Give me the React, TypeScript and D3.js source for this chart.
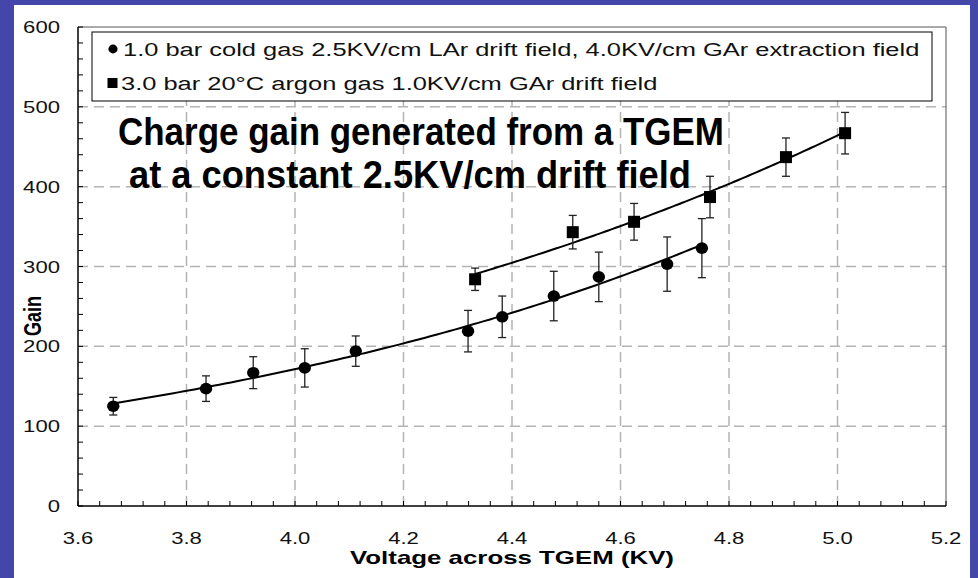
import React from 'react';
import * as d3 from 'd3';

// ---- data ----
const coldVoltage = [3.665, 3.836, 3.923, 4.018, 4.112, 4.319, 4.382, 4.477, 4.56, 4.686, 4.75];
const coldGain = [125, 147, 167, 173, 194, 219, 237, 263, 287, 303, 323];
const coldErr = [11, 16, 20, 24, 19, 26, 26, 31, 31, 34, 37];

const warmVoltage = [4.332, 4.512, 4.625, 4.765, 4.905, 5.014];
const warmGain = [284, 343, 356, 387, 437, 467];
const warmErr = [14, 21, 23, 26, 24, 26];

const xTickValues = [3.6, 3.8, 4.0, 4.2, 4.4, 4.6, 4.8, 5.0, 5.2];
const yTickValues = [0, 100, 200, 300, 400, 500, 600];

const legendLabels = [
  '1.0 bar cold gas 2.5KV/cm LAr drift field, 4.0KV/cm GAr extraction field',
  '3.0 bar 20\u00B0C argon gas 1.0KV/cm GAr drift field',
];
const noteLines = ['Charge gain generated from a TGEM', 'at a constant 2.5KV/cm drift field'];
const xTitle = 'Voltage across TGEM (KV)';
const yTitle = 'Gain';

// exponential least-squares trend line through the points
function expFit(xs: number[], ys: number[]) {
  const n = xs.length;
  const ly = ys.map((v) => Math.log(v));
  const mx = d3.mean(xs)!;
  const my = d3.mean(ly)!;
  let sxy = 0, sxx = 0;
  for (let i = 0; i < n; i++) {
    sxy += (xs[i] - mx) * (ly[i] - my);
    sxx += (xs[i] - mx) * (xs[i] - mx);
  }
  const b = sxy / sxx;
  const a = Math.exp(my - b * mx);
  return (v: number) => a * Math.exp(b * v);
}

const FONT = '"Liberation Sans", Arial, Helvetica, sans-serif';

export default function App() {
  const W = 978, H = 578;
  const x = d3.scaleLinear().domain([3.6, 5.2]).range([78, 946]);
  const y = d3.scaleLinear().domain([0, 600]).range([506, 27]);

  const line = d3.line<[number, number]>().x((d) => x(d[0])).y((d) => y(d[1]));
  const curve = (xs: number[], ys: number[]) => {
    const f = expFit(xs, ys);
    const x0 = d3.min(xs)!, x1 = d3.max(xs)!;
    const pts: [number, number][] = d3.range(0, 101).map((i) => {
      const v = x0 + ((x1 - x0) * i) / 100;
      return [v, f(v)];
    });
    return line(pts) || '';
  };

  const xMinor = d3.range(0, 41).map((i) => 3.6 + i * 0.04);
  const yMinor = d3.range(0, 31).map((i) => i * 20);

  const gridColor = '#b4b4b4';
  const errColor = '#222';

  const errBars = (xs: number[], ys: number[], es: number[]) =>
    xs.map((v, i) => {
      const cx = x(v);
      const t = y(ys[i] + es[i]);
      const b = y(ys[i] - es[i]);
      return (
        <g key={i} stroke={errColor} strokeWidth={1.3}>
          <line x1={cx} x2={cx} y1={t} y2={b} />
          <line x1={cx - 4} x2={cx + 4} y1={t} y2={t} />
          <line x1={cx - 4} x2={cx + 4} y1={b} y2={b} />
        </g>
      );
    });

  return (
    <svg width={W} height={H} style={{ position: 'absolute', left: 0, top: 0, display: 'block' }} fontFamily={FONT}>
      <rect x={0} y={0} width={W} height={H} fill="#4446aa" />
      <rect x={14} y={5} width={956} height={H - 5} fill="#ffffff" />

      {/* gridlines */}
      <g stroke={gridColor} strokeWidth={1.5} strokeDasharray="10,6">
        {xTickValues.slice(1, -1).map((v) => (
          <line key={'gx' + v} x1={x(v)} x2={x(v)} y1={y(0)} y2={y(600)} />
        ))}
        {yTickValues.slice(1, -1).map((v) => (
          <line key={'gy' + v} x1={x(3.6)} x2={x(5.2)} y1={y(v)} y2={y(v)} />
        ))}
      </g>

      {/* frame */}
      <line x1={x(3.6)} x2={x(5.2)} y1={y(600)} y2={y(600)} stroke="#555" strokeWidth={1} />
      <line x1={x(5.2)} x2={x(5.2)} y1={y(600)} y2={y(0)} stroke="#555" strokeWidth={1} />

      {/* minor ticks */}
      <g stroke="#000" strokeWidth={1}>
        {xMinor.map((v, i) => (
          <line key={'tx' + i} x1={x(v)} x2={x(v)} y1={y(0)} y2={y(0) - 5} />
        ))}
        {yMinor.map((v, i) => (
          <line key={'ty' + i} x1={x(3.6)} x2={x(3.6) + 5} y1={y(v)} y2={y(v)} />
        ))}
      </g>

      {/* axes */}
      <line x1={x(3.6)} x2={x(5.2)} y1={y(0)} y2={y(0)} stroke="#000" strokeWidth={1.5} />
      <line x1={x(3.6)} x2={x(3.6)} y1={y(0)} y2={y(600)} stroke="#000" strokeWidth={1.5} />

      {/* tick labels */}
      <g fontSize={16.5} fill="#111">
        {xTickValues.map((v) => (
          <text key={'lx' + v} transform={`translate(${x(v)},543.5) scale(1.34,1)`} textAnchor="middle">
            {v.toFixed(1)}
          </text>
        ))}
        {yTickValues.map((v) => (
          <text key={'ly' + v} transform={`translate(60,${y(v) + 6}) scale(1.34,1)`} textAnchor="end">
            {v}
          </text>
        ))}
      </g>

      {/* axis titles */}
      <text transform={`translate(512,563.5) scale(1.42,1)`} textAnchor="middle" fontWeight="bold" fontSize={18.2}>
        {xTitle}
      </text>
      <text transform={`translate(40.5,316) scale(1.3,1) rotate(-90)`} textAnchor="middle" fontWeight="bold" fontSize={18}>
        {yTitle}
      </text>

      {/* fit curves */}
      <path d={curve(coldVoltage, coldGain)} fill="none" stroke="#000" strokeWidth={2} />
      <path d={curve(warmVoltage, warmGain)} fill="none" stroke="#000" strokeWidth={2} />

      {/* error bars */}
      {errBars(coldVoltage, coldGain, coldErr)}
      {errBars(warmVoltage, warmGain, warmErr)}

      {/* markers */}
      {coldVoltage.map((v, i) => (
        <ellipse key={'c' + i} cx={x(v)} cy={y(coldGain[i])} rx={6.2} ry={5.8} fill="#000" />
      ))}
      {warmVoltage.map((v, i) => (
        <rect key={'s' + i} x={x(v) - 6} y={y(warmGain[i]) - 6} width={12} height={12} fill="#000" />
      ))}

      {/* legend */}
      <rect x={92} y={32} width={840} height={69} fill="#fff" stroke="#000" strokeWidth={1} />
      <ellipse cx={113} cy={49} rx={4.6} ry={4.4} fill="#000" />
      <rect x={107.5} y={78} width={10} height={10} fill="#000" />
      <g fontSize={19} fill="#111">
        <text transform={`translate(123,55.5) scale(1.34,1)`}>{legendLabels[0]}</text>
        <text transform={`translate(121,90) scale(1.34,1)`}>{legendLabels[1]}</text>
      </g>

      {/* annotation */}
      <g fontWeight="bold" fontSize={38} fill="#000">
        <text x={118} y={145} textLength={606} lengthAdjust="spacingAndGlyphs">
          {noteLines[0]}
        </text>
        <text x={129} y={188} textLength={562} lengthAdjust="spacingAndGlyphs">
          {noteLines[1]}
        </text>
      </g>
    </svg>
  );
}
